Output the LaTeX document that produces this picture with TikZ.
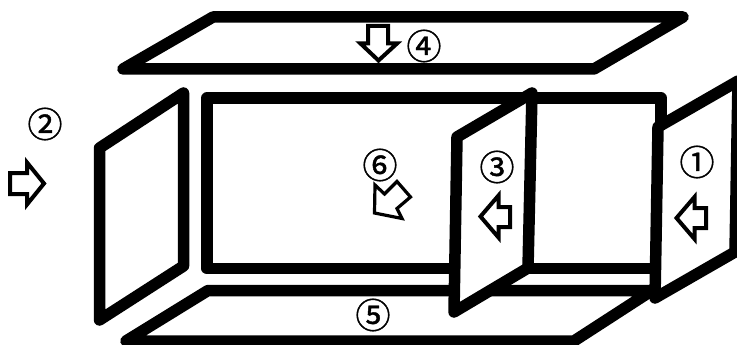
\documentclass[tikz,border=0pt]{standalone}
\usepackage{fontspec}
\newfontfamily\cjk[FakeBold=1.2]{Noto Sans CJK JP}
\tikzset{
  panel/.style={draw=black,fill=white,line width=11.5pt,line join=round},
  blockarrow/.style={draw=black,fill=white,line width=4pt,line join=miter,miter limit=10},
  circnum/.style={font=\cjk\fontsize{35}{35}\selectfont,inner sep=0pt,text=black}
}
\begin{document}
\begin{tikzpicture}[x=1pt,y=-1pt]
\useasboundingbox (0,0) rectangle (737,345);
\clip (0,0) rectangle (737,345);
\fill[white] (0,0) rectangle (737,345);
\draw[panel] (123,69) -- (213,17) -- (683,17) -- (594,69) -- cycle;
\draw[panel] (207,98) rectangle (661,268.5);
\draw[panel] (126,341) -- (208,290.5) -- (652,290.5) -- (574,341) -- cycle;
\draw[panel] (99.5,148) -- (183.5,93) -- (183.5,266) -- (99.5,320) -- cycle;
\draw[panel] (457,137) -- (532,93) -- (528,268) -- (454,312) -- cycle;
\draw[panel] (658,127) -- (738,81) -- (735,252) -- (655,298) -- cycle;
\draw[blockarrow] (10,173) -- (27,173) -- (27,162.5) -- (44,183.5) -- (27,204.5) -- (27,194) -- (10,194) -- cycle;
\draw[blockarrow] (510,207) -- (498.5,207) -- (498.5,195.5) -- (480.5,216.5) -- (498.5,237.5) -- (498.5,227) -- (510,227) -- cycle;
\draw[blockarrow] (706,208) -- (694.5,208) -- (694.5,197) -- (676.5,218) -- (694.5,239) -- (694.5,228) -- (706,228) -- cycle;
\draw[blockarrow] (368,26) -- (368,43.5) -- (360.5,43.5) -- (378.5,60.5) -- (397,43.5) -- (388,43.5) -- (388,26) -- cycle;
\draw[blockarrow,line width=3.2pt] (397,181.5) -- (410.5,197) -- (397,208.5) -- (402,218.5) -- (374.5,213) -- (375,185) -- (384.5,194) -- cycle;
\node[circnum] (n1) at (697,162) {①};
\node[circnum] (n2) at (45,124) {②};
\node[circnum] (n3) at (497,167) {③};
\node[circnum] (n4) at (424,46) {④};
\node[circnum] (n5) at (373,315) {⑤};
\node[circnum] (n6) at (380,165) {⑥};
\end{tikzpicture}
\end{document}
